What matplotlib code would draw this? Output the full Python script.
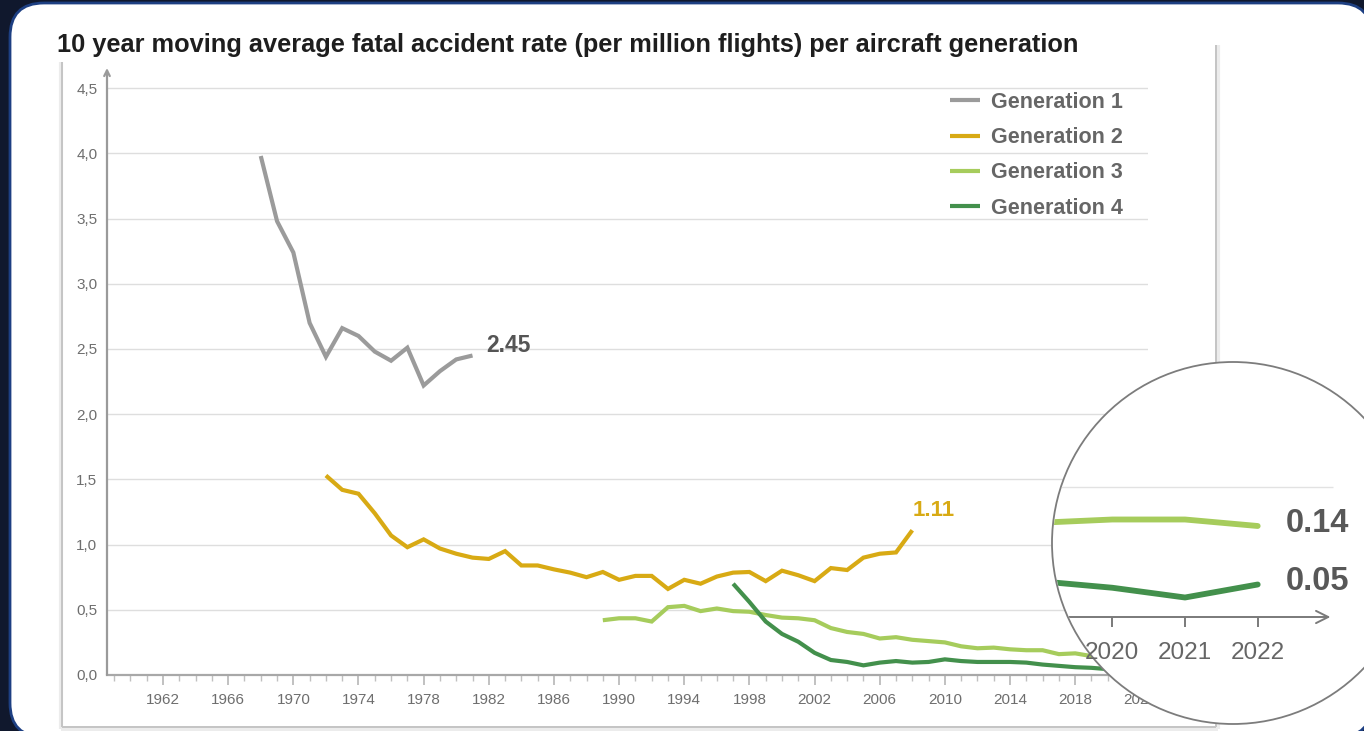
import matplotlib
matplotlib.use('Agg')
import matplotlib.pyplot as plt
from matplotlib.patches import FancyBboxPatch, Circle
import numpy as np

# ---------------- data ----------------
gen1_years = list(range(1968, 1982))
gen1_values = [3.98, 3.48, 3.24, 2.70, 2.44, 2.66, 2.60, 2.48, 2.41, 2.51, 2.22, 2.33, 2.42, 2.45]

gen2_years = list(range(1972, 2009))
gen2_values = [1.53, 1.42, 1.39, 1.24, 1.07, 0.98, 1.04, 0.97, 0.93, 0.90, 0.89, 0.95, 0.84, 0.84,
               0.81, 0.785, 0.75, 0.79, 0.73, 0.76, 0.76, 0.66, 0.73, 0.70, 0.755, 0.785, 0.79,
               0.72, 0.80, 0.765, 0.72, 0.82, 0.805, 0.90, 0.93, 0.94, 1.11]

gen3_years = list(range(1989, 2023))
gen3_values = [0.42, 0.435, 0.435, 0.41, 0.52, 0.53, 0.49, 0.51, 0.49, 0.485, 0.46, 0.44, 0.435,
               0.42, 0.36, 0.33, 0.315, 0.28, 0.29, 0.27, 0.26, 0.25, 0.22, 0.205, 0.21, 0.197,
               0.19, 0.19, 0.16, 0.166, 0.145, 0.15, 0.15, 0.14]

gen4_years = list(range(1997, 2023))
gen4_values = [0.70, 0.56, 0.41, 0.315, 0.255, 0.17, 0.115, 0.10, 0.074, 0.095, 0.107, 0.095,
               0.10, 0.12, 0.107, 0.10, 0.10, 0.10, 0.095, 0.08, 0.07, 0.06, 0.055, 0.045, 0.03, 0.05]

series_names = ["Generation 1", "Generation 2", "Generation 3", "Generation 4"]
series_colors = ["#9b9b9b", "#d8aa14", "#a6cc5c", "#43904c"]

y_ticks = [0.0, 0.5, 1.0, 1.5, 2.0, 2.5, 3.0, 3.5, 4.0, 4.5]
y_tick_labels = ["0,0", "0,5", "1,0", "1,5", "2,0", "2,5", "3,0", "3,5", "4,0", "4,5"]
x_major_ticks = list(range(1962, 2023, 4))
x_minor_ticks = list(range(1959, 2023))
zoom_years = [2020, 2021, 2022]

title = "10 year moving average fatal accident rate (per million flights) per aircraft generation"
gen1_label = "2.45"
gen2_label = "1.11"
gen3_zoom_label = "0.14"
gen4_zoom_label = "0.05"

FONT = ['Liberation Sans', 'DejaVu Sans']

# ---------------- figure ----------------
W, H = 1364, 731
fig = plt.figure(figsize=(W / 100, H / 100), dpi=100)
fig.patch.set_facecolor('#10182d')

def fx(px):
    return px / W

def fy(py):
    return 1 - py / H

# background layer in pixel coordinates (y downward)
bg = fig.add_axes([0, 0, 1, 1])
bg.set_xlim(0, W)
bg.set_ylim(H, 0)
bg.axis('off')

card = FancyBboxPatch((10, 3), 1362, 734, boxstyle='round,pad=0,rounding_size=34',
                      facecolor='white', edgecolor='#1d3f82', lw=2.0)
bg.add_patch(card)

# inner chart picture with soft shadow
for off, col, lw in [(2.5, '#ececec', 3.0), (0.8, '#c4c4c4', 1.4)]:
    bg.plot([63 - off, 63 - off], [62, 726 + off], color=col, lw=lw, solid_capstyle='butt')
    bg.plot([63 - off, 1215 + off], [726 + off, 726 + off], color=col, lw=lw, solid_capstyle='butt')
    bg.plot([1215 + off, 1215 + off], [45, 726 + off], color=col, lw=lw, solid_capstyle='butt')

bg.text(57, 52, title, fontsize=18.3, fontweight='bold', color='#1e1e1e',
        family=FONT, va='baseline', ha='left')

# ---------------- main axes ----------------
ax = fig.add_axes([fx(107), fy(675), fx(1148) - fx(107), fy(68) - fy(675)])
ax.patch.set_alpha(0)
ax.set_xlim(1958.56, 2022.47)
ax.set_ylim(0, (675 - 68) / 130.4)

lines = []
for yrs, vals, name, col in zip([gen1_years, gen2_years, gen3_years, gen4_years],
                                [gen1_values, gen2_values, gen3_values, gen4_values],
                                series_names, series_colors):
    ln, = ax.plot(yrs, vals, color=col, lw=3.0, label=name, solid_capstyle='butt',
                  solid_joinstyle='miter', zorder=3)
    lines.append(ln)

ax.set_yticks(y_ticks)
ax.set_yticklabels(y_tick_labels)
ax.set_xticks(x_major_ticks)
ax.set_xticks(x_minor_ticks, minor=True)
ax.set_xticklabels([str(y) for y in x_major_ticks])
ax.tick_params(axis='y', length=0, pad=7, labelsize=11, labelcolor='#6e6e6e')
ax.tick_params(axis='x', which='major', direction='out', length=7, width=1.1, color='#b0b0b0',
               pad=6, labelsize=11, labelcolor='#6e6e6e')
ax.tick_params(axis='x', which='minor', direction='out', length=4, width=1.0, color='#c0c0c0')
for lab in ax.get_xticklabels() + ax.get_yticklabels():
    lab.set_family(FONT)

ax.grid(axis='y', color='#dedede', lw=1.0, zorder=0)
ax.set_axisbelow(True)
for s in ['top', 'right', 'left']:
    ax.spines[s].set_visible(False)
ax.spines['bottom'].set_color('#a8a8a8')
ax.spines['bottom'].set_linewidth(1.6)
ax.annotate('', xy=(0, 1.0), xytext=(0, 0), xycoords='axes fraction',
            arrowprops=dict(arrowstyle='->', color='#9a9a9a', lw=1.6, shrinkA=0, shrinkB=0,
                            mutation_scale=10))

leg = ax.legend(handles=lines, loc='upper left', bbox_to_anchor=(fx(950), fy(92)),
                bbox_transform=fig.transFigure, frameon=False,
                prop={'family': FONT, 'weight': 'bold', 'size': 15.5},
                handlelength=1.4, handletextpad=0.5, labelspacing=0.66, borderpad=0,
                borderaxespad=0)
for t in leg.get_texts():
    t.set_color('#666666')

ax.annotate(gen1_label, xy=(gen1_years[-1], gen1_values[-1]), xytext=(10, 7),
            textcoords='offset points', ha='left', va='center', fontsize=16.5, fontweight='bold',
            color='#555555', family=FONT)
ax.annotate(gen2_label, xy=(gen2_years[-1], gen2_values[-1]), xytext=(0, 14),
            textcoords='offset points', ha='left', va='center', fontsize=16, fontweight='bold',
            color=series_colors[1], family=FONT)

# ---------------- magnifier ----------------
cx, cy, r = 1233, 543, 181
mag = fig.add_axes([fx(cx - r), fy(cy + r), 2 * r / W, 2 * r / H])
mag.axis('off')
px_per_year = 72.7
px_per_unit = 650.0
x0_px, y0_px = 1112.3, 617.0  # pixel of (2020, 0)
mag.set_xlim(2020 - (x0_px - (cx - r)) / px_per_year, 2020 + ((cx + r) - x0_px) / px_per_year)
mag.set_ylim(-((cy + r) - y0_px) / px_per_unit, (y0_px - (cy - r)) / px_per_unit)

circ = Circle((0.5, 0.5), 0.5, transform=mag.transAxes, facecolor='white',
              edgecolor='#7c7c7c', lw=1.3, zorder=0)
circ.set_clip_on(False)
mag.add_patch(circ)
clip = Circle((0.5, 0.5), 0.497, transform=mag.transAxes, facecolor='none', edgecolor='none')
mag.add_patch(clip)

g = mag.hlines(0.2, 2018.5, 2023.04, color='#e2e2e2', lw=1.0, zorder=1)
g.set_clip_path(clip)
for yrs, vals, col in [(gen3_years, gen3_values, series_colors[2]),
                       (gen4_years, gen4_values, series_colors[3])]:
    ln, = mag.plot(yrs, vals, color=col, lw=4.2, solid_capstyle='round', zorder=3)
    ln.set_clip_path(clip)

arr = mag.annotate('', xy=(2023.0, 0), xytext=(2018.5, 0),
                   arrowprops=dict(arrowstyle='->', color='#7a7a7a', lw=1.4, shrinkA=0, shrinkB=0,
                                   mutation_scale=22))
arr.arrow_patch.set_clip_path(clip)
tk = mag.vlines(zoom_years, -10 / px_per_unit, 0, color='#7a7a7a', lw=1.4, zorder=2)
for yv in zoom_years:
    mag.text(yv, -36 / px_per_unit, str(yv), ha='center', va='center', fontsize=17.5,
             color='#666666', family=FONT)

mag.annotate(gen3_zoom_label, xy=(gen3_years[-1], gen3_values[-1]), xytext=(20, 2),
             textcoords='offset points', ha='left', va='center', fontsize=23.5, fontweight='bold',
             color='#585858', family=FONT)
mag.annotate(gen4_zoom_label, xy=(gen4_years[-1], gen4_values[-1]), xytext=(20, 2),
             textcoords='offset points', ha='left', va='center', fontsize=23.5, fontweight='bold',
             color='#585858', family=FONT)

fig.savefig('out.png', dpi=100, facecolor=fig.get_facecolor())
